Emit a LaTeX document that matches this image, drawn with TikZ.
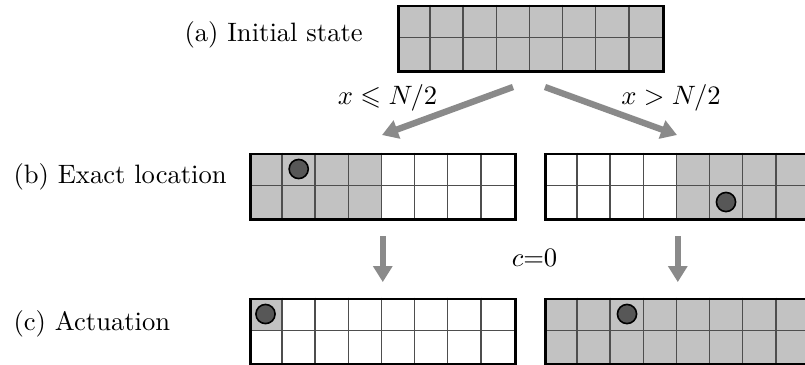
\documentclass[tikz,border=0pt]{standalone}
\usepackage{amsmath,amssymb}
\usepackage{tikz}
\usetikzlibrary{arrows.meta}
\definecolor{relleno}{HTML}{C2C2C2}
\definecolor{linea}{HTML}{4E4E4E}
\definecolor{flechagris}{HTML}{8A8A8A}
\definecolor{fichagris}{HTML}{575757}

% malla de 8x2: nombre, izquierda, arriba, col. inicial/final sombreada, ultima fila sombreada
\newcommand{\malla}[6]{%
  \fill[relleno] ({#2+#4*33.1},#3) rectangle ({#2+(#5+1)*33.1},{#3+(#6+1)*33});
  \foreach \col in {1,...,7} \draw[rejilla] ({#2+\col*33.1},#3) -- ++(0,66);
  \draw[rejilla] (#2,{#3+33}) -- ++(264.8,0);
  \node[marco,anchor=north west] (#1) at (#2,#3) {};}

\begin{document}
\begin{tikzpicture}[x=0.376pt,y=-0.376pt,
  marco/.style={draw=black,line width=1pt,minimum width=99.6pt,minimum height=24.8pt,inner sep=0pt},
  rejilla/.style={draw=linea,line width=0.6pt},
  ficha/.style={circle,draw=black,line width=0.6pt,fill=fichagris,minimum size=7.2pt,inner sep=0pt},
  flecha/.style={-{Triangle[length=6pt,width=7pt]},line width=2.4pt,flechagris},
  etiq/.style={anchor=base west,inner sep=0pt}]
\useasboundingbox (0,0) rectangle (805,364);
\malla{inicial}{397}{4.5}{0}{7}{1}
\malla{exactaI}{249}{152.5}{0}{3}{1}
\malla{exactaD}{544}{152.5}{4}{7}{1}
\malla{actuaI}{249}{297.5}{0}{0}{0}
\malla{actuaD}{544}{297.5}{0}{7}{1}
\node[ficha] (f1) at (298.7,169) {};
\node[ficha] (f2) at (726,202) {};
\node[ficha] (f3) at (265.5,314) {};
\node[ficha] (f4) at (627,314) {};
\node[etiq] (etA) at (184,41) {(a) Initial state};
\node[etiq] (etB) at (13,183) {(b) Exact location};
\node[etiq] (etC) at (13,330) {(c) Actuation};
\node[anchor=base] (condI) at (387.5,104) {$x \leqslant N/2$};
\node[anchor=base] (condD) at (671,104) {$x > N/2$};
\node[anchor=base] (cero) at (534.5,266) {$c{=}0$};
\coordinate (sI) at (513,87);
\coordinate (lI) at (382,135);
\coordinate (sD) at (545,87);
\coordinate (lD) at (677,135);
\draw[flecha] (sI) -- (lI);
\draw[flecha] (sD) -- (lD);
\draw[flecha,shorten <=5.6pt,shorten >=5.8pt] (exactaI) -- (actuaI);
\draw[flecha,shorten <=5.6pt,shorten >=5.8pt] (exactaD) -- (actuaD);
\end{tikzpicture}
\end{document}
